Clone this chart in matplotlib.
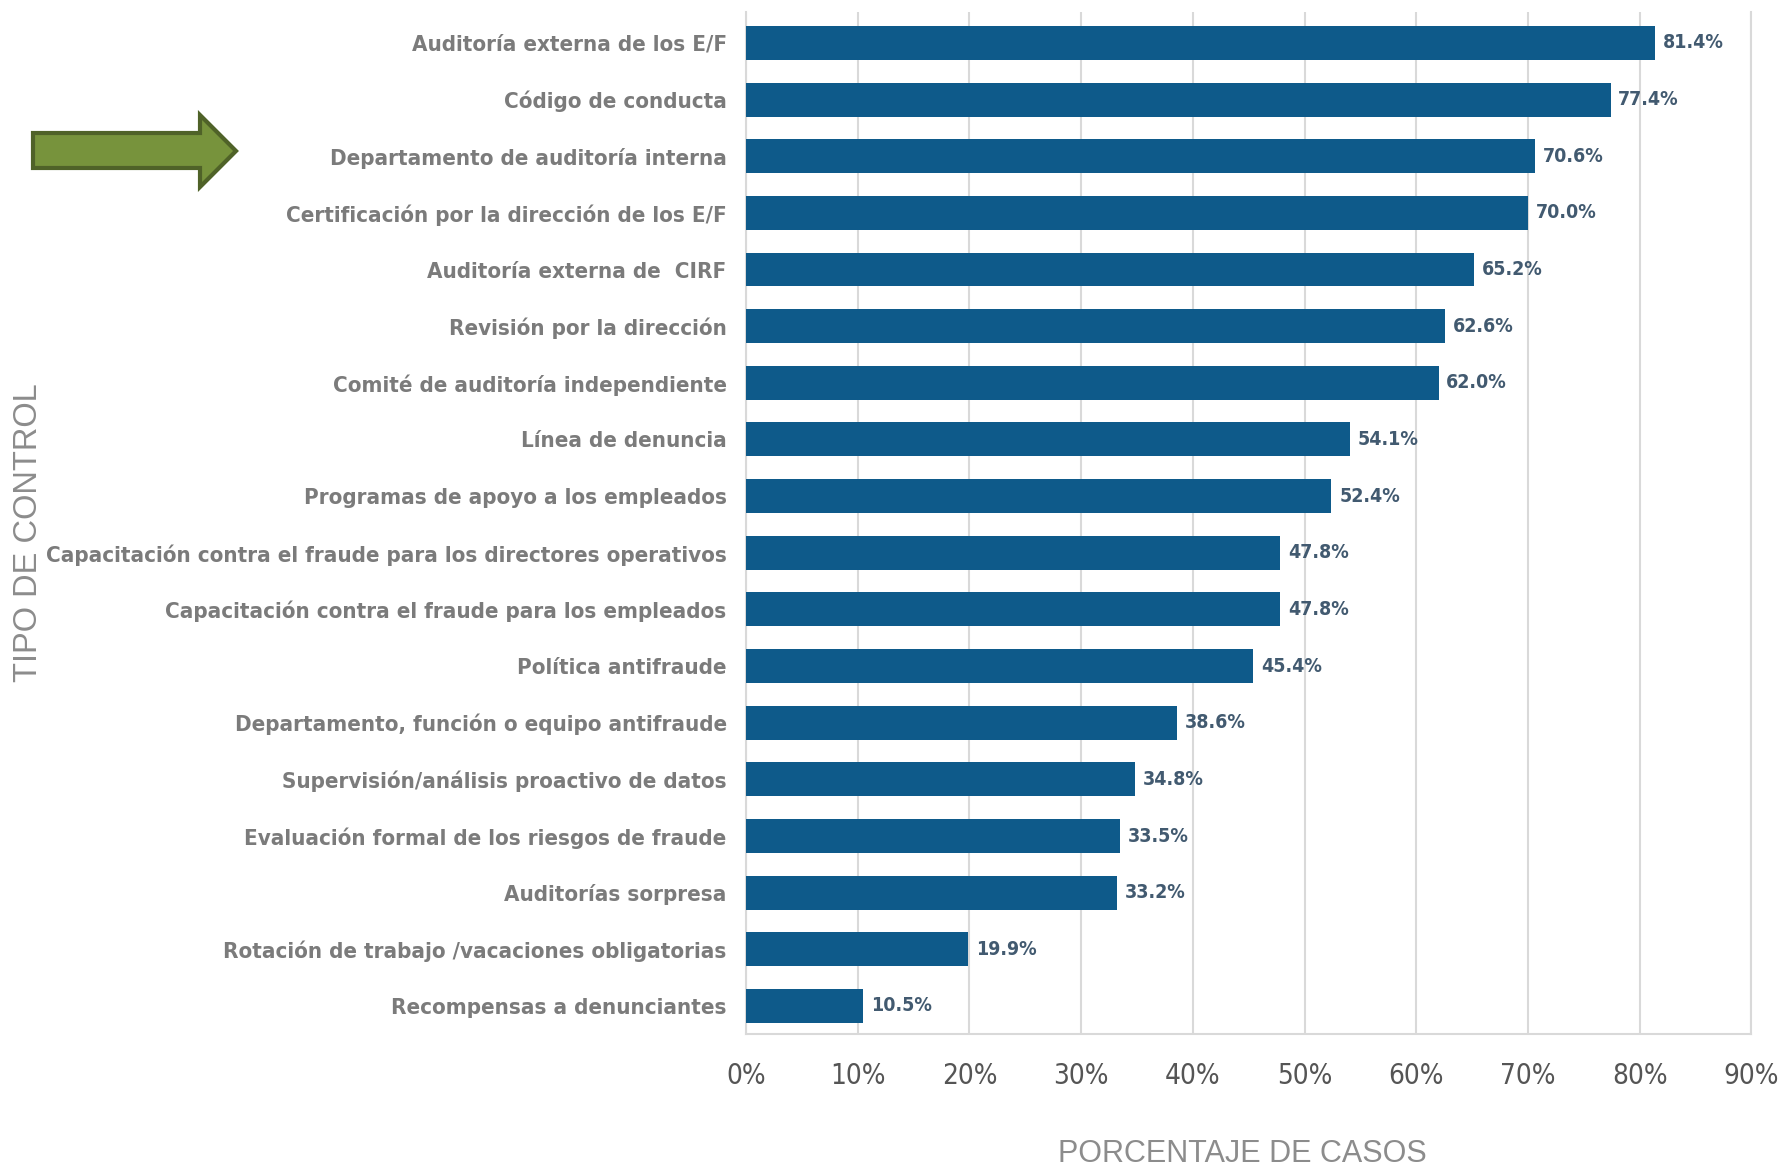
import matplotlib
matplotlib.use("Agg")
import matplotlib.pyplot as plt
from matplotlib.patches import Polygon

controls = [
    "Auditoría externa de los E/F",
    "Código de conducta",
    "Departamento de auditoría interna",
    "Certificación por la dirección de los E/F",
    "Auditoría externa de  CIRF",
    "Revisión por la dirección",
    "Comité de auditoría independiente",
    "Línea de denuncia",
    "Programas de apoyo a los empleados",
    "Capacitación contra el fraude para los directores operativos",
    "Capacitación contra el fraude para los empleados",
    "Política antifraude",
    "Departamento, función o equipo antifraude",
    "Supervisión/análisis proactivo de datos",
    "Evaluación formal de los riesgos de fraude",
    "Auditorías sorpresa",
    "Rotación de trabajo /vacaciones obligatorias",
    "Recompensas a denunciantes",
]
percent = [81.4, 77.4, 70.6, 70.0, 65.2, 62.6, 62.0, 54.1, 52.4,
           47.8, 47.8, 45.4, 38.6, 34.8, 33.5, 33.2, 19.9, 10.5]
ticks = [0, 10, 20, 30, 40, 50, 60, 70, 80, 90]

cond = dict(family="DejaVu Sans", stretch="condensed")
bar_color = "#0e5a8a"
grid_color = "#d9d9d9"

fig = plt.figure(figsize=(17.87, 11.74), dpi=100)
ax = fig.add_axes([0.4175, 0.119, 0.5625, 0.871])

y = range(len(controls))
ax.barh(y, percent, height=0.6, color=bar_color, zorder=3)
for i, v in enumerate(percent):
    ax.text(v + 0.7, i, f"{v:.1f}%", va="center", ha="left",
            fontsize=14, fontweight="bold", color="#425a70", **cond)

ax.set_xlim(0, 90)
ax.set_ylim(17.5, -0.55)
ax.set_xticks(ticks)
ax.set_xticklabels([f"{t}%" for t in ticks], fontsize=20,
                   color="#555555", **cond)
ax.set_yticks(list(y))
ax.set_yticklabels(controls, fontsize=16, fontweight="bold",
                   color="#7b7b7b", **cond)
ax.tick_params(axis="y", length=0, pad=14)
ax.tick_params(axis="x", length=0, pad=20)
ax.xaxis.grid(True, color=grid_color, linewidth=1.5, zorder=0)
for side in ["left", "bottom", "right"]:
    ax.spines[side].set_color(grid_color)
    ax.spines[side].set_linewidth(1.5)
ax.spines["top"].set_visible(False)

fig.text(0.695, 0.004, "PORCENTAJE DE CASOS", ha="center", va="bottom",
         fontsize=22, color="#8c8c8c", family=["Liberation Sans", "DejaVu Sans"])
fig.text(0.016, 0.546, "TIPO DE CONTROL", ha="center", va="center", rotation=90,
         fontsize=23.5, color="#8c8c8c", family=["Liberation Sans", "DejaVu Sans"])

# green arrow pointing at the internal audit row
W, H = 1787, 1174
pts = [(33, 133), (200, 133), (200, 115), (236, 151), (200, 187), (200, 168), (33, 168)]
arrow = Polygon([(px / W, 1 - py / H) for px, py in pts], closed=True,
                transform=fig.transFigure, facecolor="#77933c",
                edgecolor="#4f6228", linewidth=3)
fig.add_artist(arrow)

fig.savefig("out.png", dpi=100, facecolor="white")
